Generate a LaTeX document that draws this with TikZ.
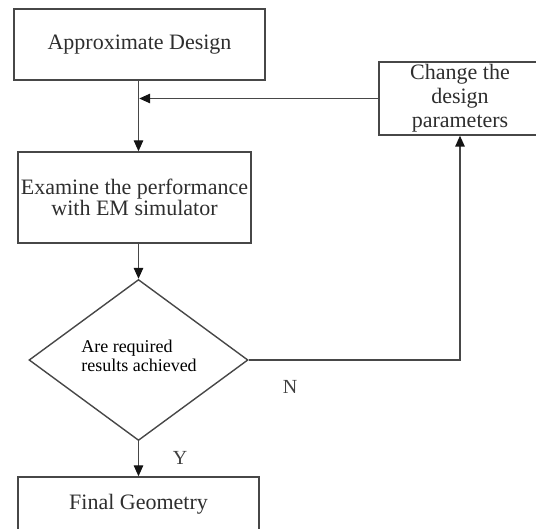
\documentclass[tikz,border=0pt]{standalone}
\usepackage{fontspec}
\setmainfont{Liberation Serif}
\usetikzlibrary{shapes.geometric,arrows.meta}
\begin{document}
\begin{tikzpicture}[x=1pt,y=-1pt,
  line/.style={draw=black!72, line width=1.4pt},
  box/.style={line, rectangle, inner sep=0pt, align=center, font=\fontsize{22}{21}\selectfont, text=black!82},
  decision/.style={line, diamond, inner sep=0pt},
  dtext/.style={inner sep=0pt, align=left, font=\fontsize{18}{18.5}\selectfont, text=black},
  arr/.style={line, -{Triangle[length=11pt,width=9.5pt,color=black!92]}},
  lbl/.style={font=\fontsize{20}{20}\selectfont, text=black!75}]
\useasboundingbox (0,0) rectangle (536,529);
\node[box, minimum width=251pt, minimum height=71pt] (approx) at (139.5,44.5) {Approximate Design};
\node[box, minimum width=233pt, minimum height=91pt] (exam) at (134.5,197.5) {Examine the performance\\with EM simulator};
\node[decision, minimum width=219pt, minimum height=161pt] (dec) at (138.5,360) {};
\node[dtext] (dectext) at (139,356) {Are required\\results achieved};
\node[box, minimum width=241pt, minimum height=54pt] (final) at (138.5,504) {Final Geometry};
\node[box, minimum width=162pt, minimum height=73pt, font=\fontsize{22}{24}\selectfont] (change) at (460,98.5) {Change the\\design\\parameters};
\draw[arr] (approx.south -| dec.north) -- (exam.north -| dec.north);
\draw[arr] (exam.south -| dec.north) -- (dec.north);
\draw[arr] (dec.south) -- (final.north);
\draw[arr, shorten >=0.7pt] (change.west) -- (change.west -| dec.north);
\draw[arr] (dec.east) -| (change.south);
\node[lbl] (nlabel) at (290,387) {N};
\node[lbl] (ylabel) at (180,458) {Y};
\end{tikzpicture}
\end{document}
